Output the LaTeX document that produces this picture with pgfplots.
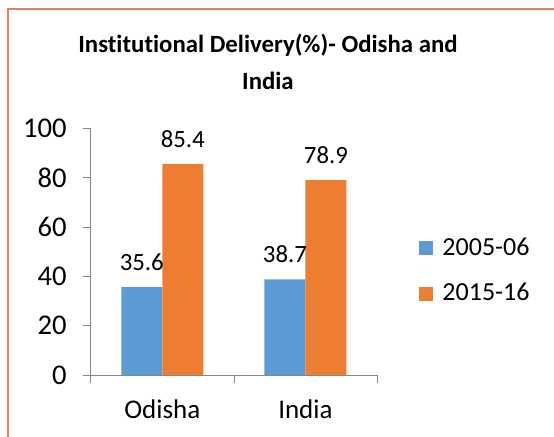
\documentclass[border=0pt]{standalone}
\usepackage{fontspec}
\setmainfont{Carlito}[Ligatures=NoCommon]
\usepackage{pgfplots}
\pgfplotsset{compat=1.18}
\definecolor{cblue}{RGB}{91,155,213}
\definecolor{corange}{RGB}{237,125,49}
\definecolor{caxis}{RGB}{134,134,134}
\definecolor{cframe}{RGB}{222,130,100}
\begin{document}
\begin{tikzpicture}
\useasboundingbox (0,0) rectangle (277pt,218.5pt);
\draw[cframe, line width=0.8pt] (4pt,0) -- (4pt,214pt) -- (277pt,214pt);
\begin{axis}[
  at={(45.35pt,31pt)}, anchor=south west,
  scale only axis, width=143.15pt, height=123.5pt,
  ymin=0, ymax=100, ytick={0,20,...,100},
  xmin=-0.5, xmax=1.5,
  xtick={-0.5,0.5,1.5}, xticklabels={Odisha,India},
  x tick label as interval,
  axis x line*=bottom, axis y line*=left,
  axis line style={caxis, -},
  tick align=outside, major tick length=4pt,
  tick style={caxis},
  /pgf/number format/assume math mode=true,
  yticklabel style={font=\fontsize{14.3}{17}\selectfont, xshift=-4.5pt},
  xticklabel style={font=\fontsize{13.5}{16}\selectfont, yshift=-5pt},
  ybar=0pt, bar width=20.5pt,
  nodes near coords,
  every node near coord/.append style={font=\fontsize{12.4}{14.8}\selectfont, inner sep=0pt, yshift=8pt, black},
  title={Institutional Delivery(\%)- Odisha and\\India},
  title style={at={(0.619,1.221)}, anchor=center, align=center, font=\bfseries\fontsize{12.4}{18.5}\selectfont},
  legend style={at={(1.147,0.422)}, anchor=west, draw=none, fill=none, inner sep=0pt,
    font=\fontsize{13}{15.6}\selectfont, row sep=12.5pt, nodes={inner sep=0pt}},
  legend cell align=left,
  legend image code/.code={\fill[#1] (0pt,-3.5pt) rectangle (7pt,3.5pt);},
  legend style={/tikz/every even column/.append style={column sep=0pt}},
]
\addplot[fill=cblue, draw=none] coordinates {(0,35.6) (1,38.7)};
\addplot[fill=corange, draw=none] coordinates {(0,85.4) (1,78.9)};
\legend{\hspace{4.5pt}2005-06,\hspace{4.5pt}2015-16}
\end{axis}
\end{tikzpicture}
\end{document}
